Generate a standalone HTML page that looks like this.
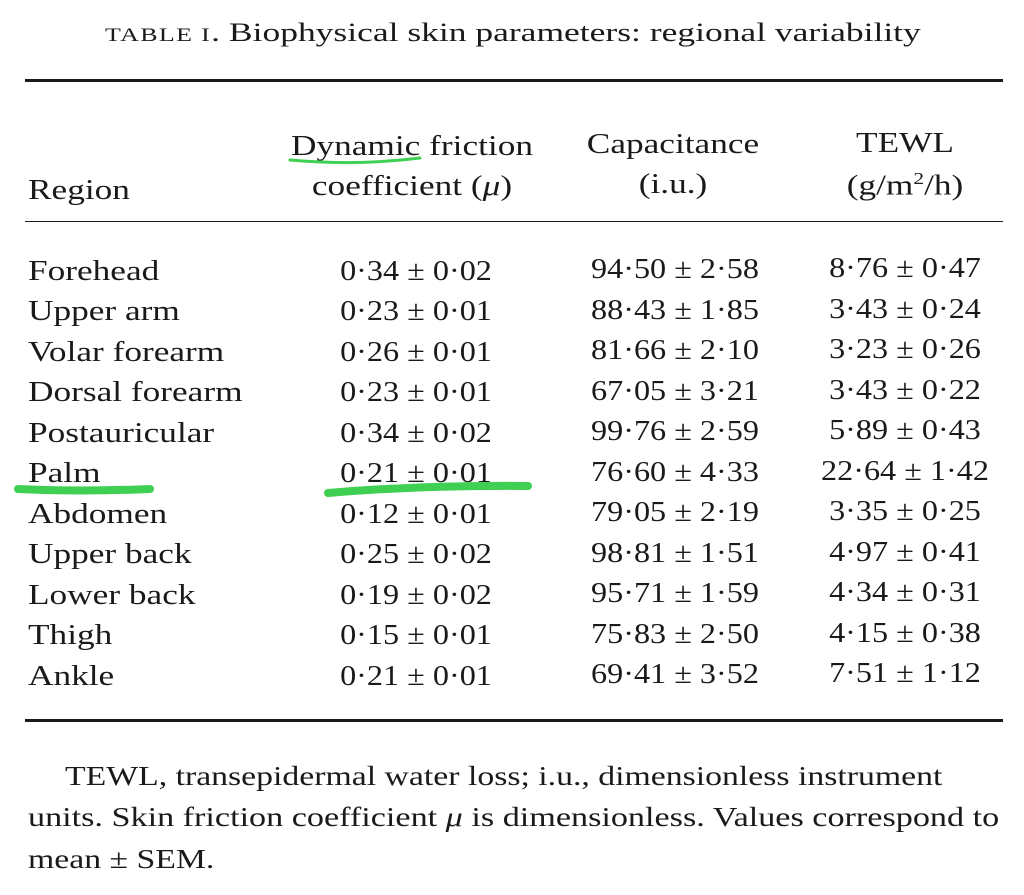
<!DOCTYPE html>
<html><head><meta charset="utf-8"><style>
html,body{margin:0;padding:0;background:#fff;}
body{width:1024px;height:895px;position:relative;overflow:hidden;font-family:"Liberation Serif",serif;color:#1a1a1a;}
.t{position:absolute;white-space:nowrap;line-height:1;transform-origin:0 0;transform:scaleX(1.26);}
.r{position:absolute;left:25px;width:978px;background:#1a1a1a;}
.n{position:absolute;width:300px;text-align:center;white-space:nowrap;line-height:1;font-size:28px;transform:scaleX(1.15);}
.c1{left:266px}.c2{left:525px}.c3{left:755px}
.h{position:absolute;width:400px;text-align:center;white-space:nowrap;line-height:1;font-size:28px;transform:scaleX(1.26);}
</style></head><body>
<div class="t" style="left:105px;top:20px;font-size:26px;transform:scaleX(1.365)"><span style="font-size:19px;letter-spacing:1px">TABLE I</span>. Biophysical skin parameters: regional variability</div>
<div class="r" style="top:79px;height:3px;"></div>
<div class="h" style="left:212px;top:133px;">Dynamic friction</div>
<div class="h" style="left:212px;top:173px;">coefficient (<i>μ</i>)</div>
<div class="t" style="left:28px;top:177px;font-size:28px;">Region</div>
<div class="h" style="left:473px;top:131px;">Capacitance</div>
<div class="h" style="left:473px;top:171px;">(i.u.)</div>
<div class="h" style="left:705px;top:130px;">TEWL</div>
<div class="h" style="left:705px;top:170px;">(g/m<sup style="font-size:17px">2</sup>/h)</div>
<div class="r" style="top:221px;height:1px;"></div>

<div class="t" style="left:28px;top:258px;font-size:28px;">Forehead</div>
<div class="t" style="left:28px;top:298px;font-size:28px;">Upper arm</div>
<div class="t" style="left:28px;top:339px;font-size:28px;">Volar forearm</div>
<div class="t" style="left:28px;top:379px;font-size:28px;">Dorsal forearm</div>
<div class="t" style="left:28px;top:420px;font-size:28px;">Postauricular</div>
<div class="t" style="left:28px;top:460px;font-size:28px;">Palm</div>
<div class="t" style="left:28px;top:501px;font-size:28px;">Abdomen</div>
<div class="t" style="left:28px;top:541px;font-size:28px;">Upper back</div>
<div class="t" style="left:28px;top:582px;font-size:28px;">Lower back</div>
<div class="t" style="left:28px;top:622px;font-size:28px;">Thigh</div>
<div class="t" style="left:28px;top:663px;font-size:28px;">Ankle</div>

<div class="n c1" style="top:258px">0·34 ± 0·02</div><div class="n c2" style="top:256px">94·50 ± 2·58</div><div class="n c3" style="top:255px">8·76 ± 0·47</div>
<div class="n c1" style="top:298px">0·23 ± 0·01</div><div class="n c2" style="top:297px">88·43 ± 1·85</div><div class="n c3" style="top:296px">3·43 ± 0·24</div>
<div class="n c1" style="top:339px">0·26 ± 0·01</div><div class="n c2" style="top:337px">81·66 ± 2·10</div><div class="n c3" style="top:336px">3·23 ± 0·26</div>
<div class="n c1" style="top:379px">0·23 ± 0·01</div><div class="n c2" style="top:378px">67·05 ± 3·21</div><div class="n c3" style="top:377px">3·43 ± 0·22</div>
<div class="n c1" style="top:420px">0·34 ± 0·02</div><div class="n c2" style="top:418px">99·76 ± 2·59</div><div class="n c3" style="top:417px">5·89 ± 0·43</div>
<div class="n c1" style="top:460px">0·21 ± 0·01</div><div class="n c2" style="top:459px">76·60 ± 4·33</div><div class="n c3" style="top:458px">22·64 ± 1·42</div>
<div class="n c1" style="top:501px">0·12 ± 0·01</div><div class="n c2" style="top:499px">79·05 ± 2·19</div><div class="n c3" style="top:498px">3·35 ± 0·25</div>
<div class="n c1" style="top:541px">0·25 ± 0·02</div><div class="n c2" style="top:540px">98·81 ± 1·51</div><div class="n c3" style="top:539px">4·97 ± 0·41</div>
<div class="n c1" style="top:582px">0·19 ± 0·02</div><div class="n c2" style="top:580px">95·71 ± 1·59</div><div class="n c3" style="top:579px">4·34 ± 0·31</div>
<div class="n c1" style="top:622px">0·15 ± 0·01</div><div class="n c2" style="top:621px">75·83 ± 2·50</div><div class="n c3" style="top:620px">4·15 ± 0·38</div>
<div class="n c1" style="top:663px">0·21 ± 0·01</div><div class="n c2" style="top:661px">69·41 ± 3·52</div><div class="n c3" style="top:660px">7·51 ± 1·12</div>

<div class="r" style="top:719px;height:3px;"></div>
<div class="t" style="left:65px;top:763px;font-size:27px;transform:scaleX(1.25)">TEWL, transepidermal water loss; i.u., dimensionless instrument</div>
<div class="t" style="left:28px;top:804px;font-size:27px;transform:scaleX(1.265)">units. Skin friction coefficient <i>μ</i> is dimensionless. Values correspond to</div>
<div class="t" style="left:28px;top:846px;font-size:27px;transform:scaleX(1.25)">mean ± SEM.</div>

<svg style="position:absolute;left:0;top:0" width="1024" height="895">
<path d="M290 160 Q355 166 420 158" stroke="#3fcf52" stroke-width="3" fill="none" stroke-linecap="round"/>
<path d="M18 489 Q80 492 150 489" stroke="#3fcf52" stroke-width="8" fill="none" stroke-linecap="round"/>
<path d="M328 493 Q420 485 528 486" stroke="#3fcf52" stroke-width="8" fill="none" stroke-linecap="round"/>
</svg>
</body></html>
